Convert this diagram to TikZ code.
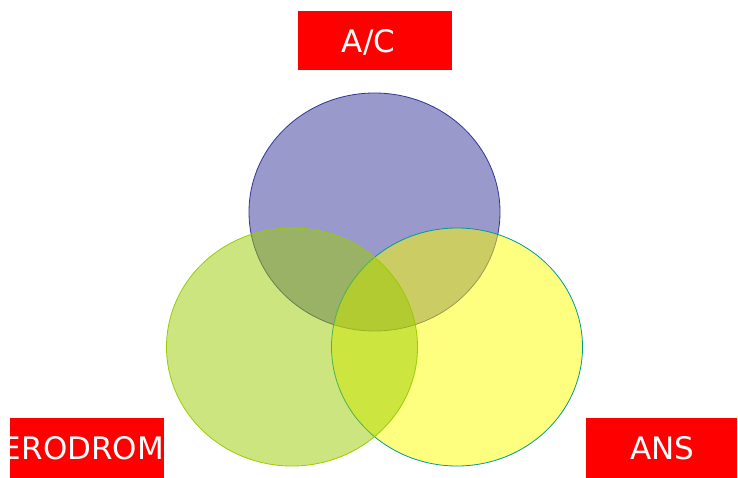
\documentclass[tikz,border=0pt]{standalone}
\usepackage{fontspec}
\setmainfont{DejaVu Sans}
\usetikzlibrary{shapes.geometric}
\definecolor{setblue}{HTML}{333399}
\definecolor{setgreen}{HTML}{99CC00}
\definecolor{setyellow}{HTML}{FFFF00}
\definecolor{setteal}{HTML}{009999}
\definecolor{tagred}{HTML}{FF0000}
\tikzset{
  setdisk/.style={ellipse, inner sep=0pt, minimum width=251pt, minimum height=238pt,
    line width=0.8pt, fill opacity=0.5},
  tagbox/.style={rectangle, fill=tagred, inner sep=0pt, anchor=north west},
  tagtext/.style={text=white, inner sep=0pt, anchor=base,
    font=\fontsize{31}{31}\selectfont}
}
\begin{document}
\begin{tikzpicture}[x=1pt,y=-1pt]
  \useasboundingbox (0,0) rectangle (738,478);

  % three overlapping sets
  \node[setdisk, draw=setblue, fill=setblue] (ac) at (374.5,212) {};
  \node[setdisk, draw=setteal, fill=setyellow] (ans) at (457,347) {};
  \node[setdisk, draw=setgreen, fill=setgreen] (aero) at (292,347) {};

  % red tags
  \node[tagbox, minimum width=154pt, minimum height=59pt] (tagac) at (298,11) {};
  \node[tagtext] (txtac) at (368.5,53) {A/C};

  \node[tagbox, minimum width=151pt, minimum height=60pt] (tagans) at (586,418) {};
  \node[tagtext] (txtans) at (662.5,459.3) {ANS};

  \node[tagbox, minimum width=154pt, minimum height=60pt] (tagaero) at (10,418) {};
  \begin{scope}
    \clip (tagaero.north west) rectangle (tagaero.south east);
    \node[tagtext] (txtaero) at (83,459.3) {ERODROM};
  \end{scope}
\end{tikzpicture}
\end{document}
